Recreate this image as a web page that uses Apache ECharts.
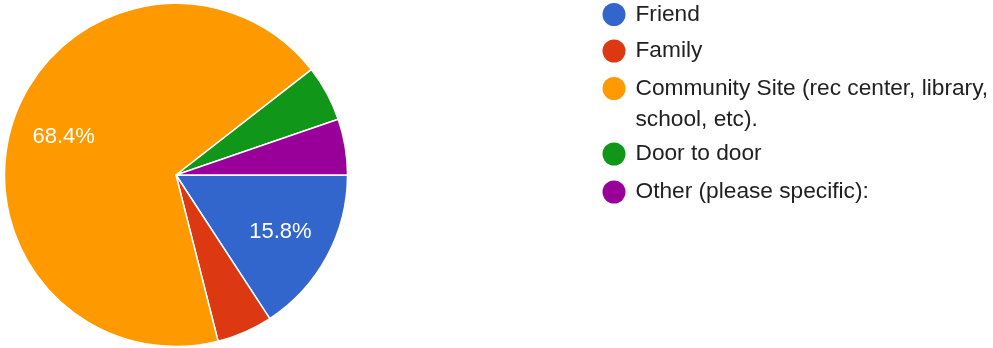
<!DOCTYPE html>
<html>
<head>
<meta charset="utf-8">
<script src="https://cdn.jsdelivr.net/npm/echarts@6/dist/echarts.min.js"></script>
<style>
  html, body { margin: 0; padding: 0; background: #fff; }
  #chart { width: 993px; height: 348px; }
</style>
</head>
<body>
<div id="chart"></div>
<script>
// Survey answers: how respondents heard about the program
const categories = [
  'Friend',
  'Family',
  'Community Site (rec center, library, school, etc).',
  'Door to door',
  'Other (please specific):'
];
const responses = [3, 1, 13, 1, 1];
const sliceColors = ['#3366cc', '#dc3912', '#ff9900', '#109618', '#990099'];

const FONT = '"Liberation Sans", Arial, sans-serif';
const CENTER = [176, 175];
const RADIUS = 171.5;

const pieData = categories.map((name, i) => ({
  name: name,
  value: responses[i],
  itemStyle: { color: sliceColors[i] }
}));

const legendBase = {
  orient: 'vertical',
  left: 602.5,
  padding: 0,
  icon: 'circle',
  itemWidth: 33,
  itemHeight: 23,
  selectedMode: false,
  itemStyle: { borderWidth: 0 },
  textStyle: { fontFamily: FONT, fontSize: 22.7, color: '#212121' }
};

const chart = echarts.init(document.getElementById('chart'), null, { renderer: 'canvas' });
chart.setOption({
  animation: false,
  backgroundColor: '#fff',
  legend: [
    Object.assign({}, legendBase, { top: 3, itemGap: 13.5, data: categories.slice(0, 2) }),
    Object.assign({}, legendBase, {
      top: 42,
      data: categories.slice(2, 3),
      // leading blank line keeps the first text line level with the marker;
      // the long name wraps after "library,"
      formatter: name => '\n' + name.replace('library, ', 'library,\n'),
      textStyle: Object.assign({}, legendBase.textStyle, { lineHeight: 31 })
    }),
    Object.assign({}, legendBase, { top: 142.5, itemGap: 15, data: categories.slice(3) })
  ],
  series: [
    {
      type: 'pie',
      center: CENTER,
      radius: RADIUS,
      startAngle: 0,
      clockwise: true,
      silent: true,
      label: { show: false },
      labelLine: { show: false },
      itemStyle: { borderColor: '#fff', borderWidth: 1.5 },
      emphasis: { disabled: true },
      data: pieData
    },
    {
      // transparent ring used only to place the percentage labels
      type: 'pie',
      center: CENTER,
      radius: [60, RADIUS],
      startAngle: 0,
      clockwise: true,
      silent: true,
      percentPrecision: 1,
      itemStyle: { color: 'rgba(0,0,0,0)', borderWidth: 0 },
      emphasis: { disabled: true },
      labelLine: { show: false },
      label: {
        show: true,
        position: 'inside',
        color: '#fff',
        fontFamily: FONT,
        fontSize: 22,
        padding: [6, 0, 0, 0],
        formatter: p => (p.percent >= 10 ? p.percent.toFixed(1) + '%' : '')
      },
      data: categories.map((name, i) => ({ name: name, value: responses[i] }))
    }
  ]
});
</script>
</body>
</html>
